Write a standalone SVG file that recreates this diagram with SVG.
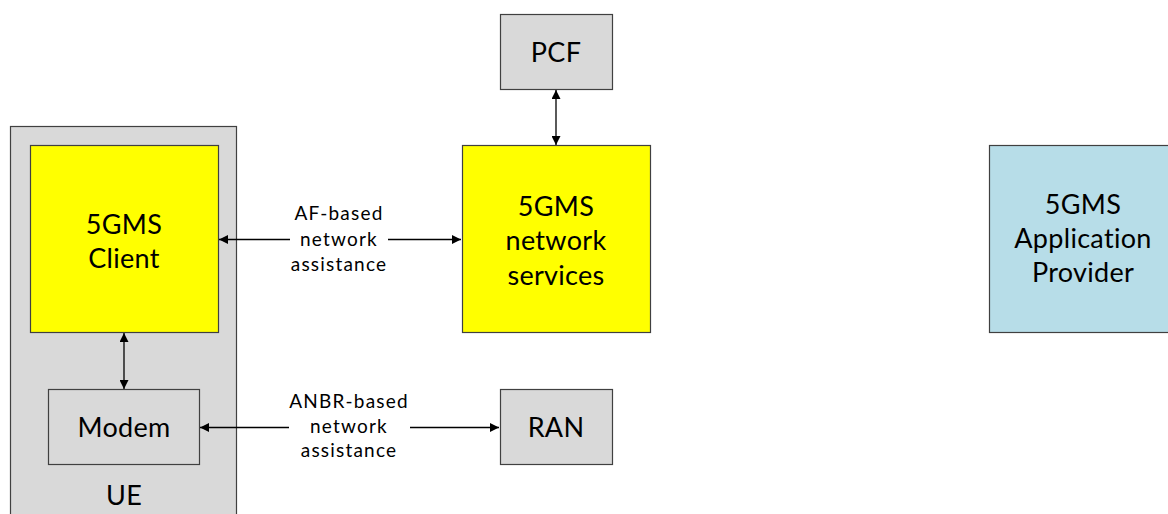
<svg xmlns="http://www.w3.org/2000/svg" width="1168" height="514" viewBox="0 0 1168 514">
<style>
.box{stroke:#404040;stroke-width:1.2}
.gray{fill:#d9d9d9}
.yel{fill:#ffff00}
.blue{fill:#b7dde8}
.big{font-family:Lato,"Liberation Sans",sans-serif;font-size:27px;fill:#000;text-anchor:middle;letter-spacing:0.3px}
.small{font-family:Lato,"Liberation Sans",sans-serif;font-size:19px;fill:#000;text-anchor:middle;letter-spacing:1.2px}
.con{stroke:#000;stroke-width:1.3;fill:none}
.both{marker-start:url(#ah);marker-end:url(#ah)}
.end{marker-end:url(#ah)}
</style>
<defs>
<marker id="ah" viewBox="0 0 10 10" refX="10" refY="5" markerWidth="12" markerHeight="9" markerUnits="userSpaceOnUse" orient="auto-start-reverse">
<path d="M0,0 L10,5 L0,10 z" fill="#000"/>
</marker>
</defs>
<rect width="1168" height="514" fill="#fff"/>
<g id="ue">
<rect class="box gray" x="10.5" y="126.5" width="226" height="400"/>
<text class="big" x="124" y="505">UE</text>
</g>
<g id="client">
<rect class="box yel" x="30.5" y="145.5" width="188" height="187"/>
<text class="big" x="124" y="234">5GMS</text>
<text class="big" x="124" y="268">Client</text>
</g>
<g id="modem">
<rect class="box gray" x="48.5" y="389.5" width="151" height="75"/>
<text class="big" x="124" y="437">Modem</text>
</g>
<g id="pcf">
<rect class="box gray" x="500.5" y="14.5" width="112" height="75"/>
<text class="big" x="556" y="62">PCF</text>
</g>
<g id="ns">
<rect class="box yel" x="462.5" y="145.5" width="188" height="187"/>
<text class="big" x="556" y="216">5GMS</text>
<text class="big" x="556" y="250">network</text>
<text class="big" x="556" y="285">services</text>
</g>
<g id="ran">
<rect class="box gray" x="500.5" y="389.5" width="112" height="75"/>
<text class="big" x="556" y="437">RAN</text>
</g>
<g id="ap">
<rect class="box blue" x="989.5" y="145.5" width="188" height="187"/>
<text class="big" x="1083" y="214">5GMS</text>
<text class="big" x="1083" y="248">Application</text>
<text class="big" x="1083" y="282">Provider</text>
</g>
<g id="connectors">
<line class="con end" x1="290" y1="239.5" x2="219" y2="239.5"/>
<line class="con end" x1="388" y1="239.5" x2="461" y2="239.5"/>
<line class="con end" x1="289" y1="427.5" x2="200" y2="427.5"/>
<line class="con end" x1="410" y1="427.5" x2="499" y2="427.5"/>
<line class="con both" x1="124" y1="333" x2="124" y2="389"/>
<line class="con both" x1="556" y1="90" x2="556" y2="145"/>
<text class="small" x="339" y="220">AF-based</text>
<text class="small" x="339" y="246">network</text>
<text class="small" x="339" y="271">assistance</text>
<text class="small" x="349" y="408">ANBR-based</text>
<text class="small" x="349" y="433">network</text>
<text class="small" x="349" y="457">assistance</text>
</g>
</svg>
